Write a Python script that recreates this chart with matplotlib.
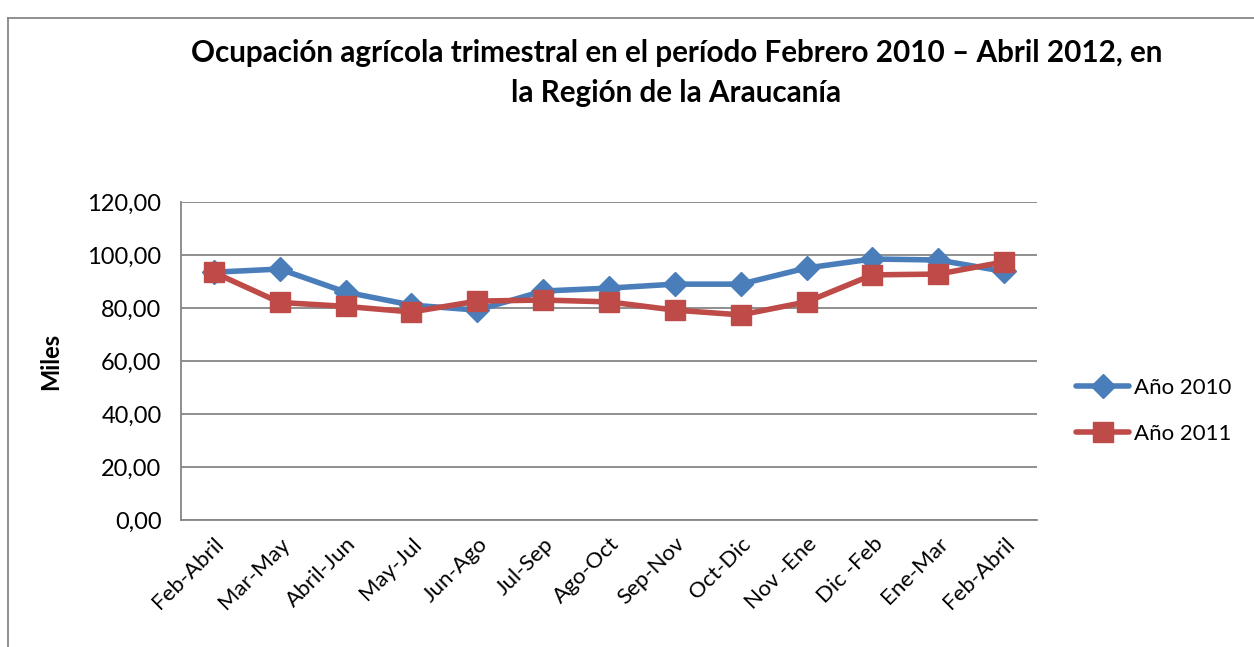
import matplotlib
matplotlib.use("Agg")
from matplotlib import pyplot as plt
from matplotlib.lines import Line2D

plt.rcParams['font.family'] = ['Lato', 'DejaVu Sans']

periodos = ["Feb-Abril", "Mar-May", "Abril-Jun", "May-Jul", "Jun-Ago", "Jul-Sep",
            "Ago-Oct", "Sep-Nov", "Oct-Dic", "Nov -Ene", "Dic -Feb", "Ene-Mar", "Feb-Abril"]
anio_2010 = [93.5, 94.7, 86.0, 81.1, 79.2, 86.4, 87.5, 89.0, 89.0, 95.1, 98.5, 98.1, 93.8]
anio_2011 = [93.4, 82.1, 80.6, 78.5, 82.6, 83.0, 82.3, 79.2, 77.4, 82.3, 92.5, 92.8, 97.4]
y_ticks = [0, 20, 40, 60, 80, 100, 120]

azul = "#4a7ebb"
rojo = "#be4b48"
gris = "#868686"

fig = plt.figure(figsize=(12.54, 6.47), dpi=100)
ax = fig.add_axes([0.1443, 0.1963, 0.6827, 0.4915])

x = list(range(len(periodos)))
ax.plot(x, anio_2010, color=azul, lw=4, marker="D", ms=12, label="Año 2010", solid_capstyle="round")
ax.plot(x, anio_2011, color=rojo, lw=4, marker="s", ms=15, label="Año 2011", solid_capstyle="round")

ax.set_xlim(-0.5, len(periodos) - 0.5)
ax.set_ylim(0, 120)
ax.set_yticks(y_ticks)
ax.set_yticklabels([f"{v:.2f}".replace(".", ",") for v in y_ticks], fontsize=17)
ax.set_xticks(x)
ax.set_xticklabels(periodos, rotation=45, ha="right", rotation_mode="anchor", fontsize=16)
ax.tick_params(length=0, pad=14)
ax.tick_params(axis="x", pad=10)
ax.yaxis.grid(True, color=gris, lw=1.3)
ax.set_axisbelow(True)
for s in ["top", "right"]:
    ax.spines[s].set_visible(False)
for s in ["left", "bottom"]:
    ax.spines[s].set_color(gris)
    ax.spines[s].set_linewidth(1.3)

ax.set_ylabel("Miles", fontsize=17, fontweight="bold", labelpad=18)

fig.text(0.5395, 0.887, "Ocupación agrícola trimestral en el período Febrero 2010 – Abril 2012, en\nla Región de la Araucanía",
         ha="center", va="center", fontsize=21.3, fontweight="bold", linespacing=1.5)

ax.legend(loc="center left", bbox_to_anchor=(1.022, 0.343), frameon=False, fontsize=16,
          handlelength=2.4, handletextpad=0.2, labelspacing=1.2)

# marco del grafico
fig.add_artist(Line2D([0.0064, 0.0064], [0, 0.972], color=gris, lw=1.3))
fig.add_artist(Line2D([0.0064, 1], [0.972, 0.972], color=gris, lw=1.3))

# texto cortado arriba
fig.text(0.0, 1.012, "Gráfico N° 6: Número de Ocupados agrícolas, en la Región de la Araucanía",
         ha="left", va="baseline", fontsize=19, color="#222222")

fig.savefig("out.png", dpi=100, facecolor="white")
